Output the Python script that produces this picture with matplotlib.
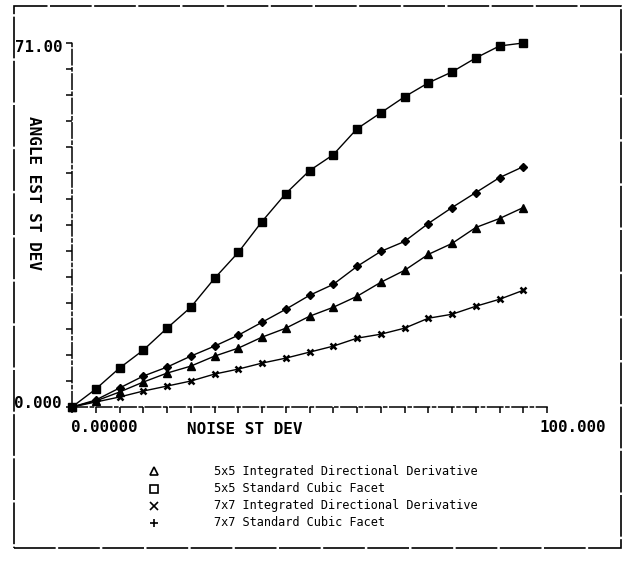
import matplotlib
matplotlib.use("Agg")
import matplotlib.pyplot as plt
from matplotlib.patches import Rectangle
import numpy as np

# noise standard deviation (x) and angle estimate standard deviation (y)
noise = [0, 5, 10, 15, 20, 25, 30, 35, 40, 45, 50, 55, 60, 65, 70, 75, 80, 85, 90, 95]

scf_5x5 = [0, 3.50, 7.59, 11.09, 15.37, 19.45, 25.09, 30.15, 36.18, 41.63,
           46.10, 49.21, 54.27, 57.38, 60.50, 63.22, 65.36, 68.08, 70.42, 71.00]
scf_7x7 = [0, 1.36, 3.70, 6.03, 7.78, 9.92, 11.87, 14.00, 16.53, 19.06,
           21.78, 23.92, 27.42, 30.34, 32.29, 35.79, 38.90, 41.82, 44.74, 46.88]
idd_5x5 = [0, 1.17, 2.92, 4.86, 6.61, 7.97, 9.92, 11.48, 13.62, 15.37,
           17.70, 19.45, 21.59, 24.32, 26.65, 29.76, 31.90, 35.01, 36.76, 38.90]
idd_7x7 = [0, 0.97, 1.95, 3.11, 4.08, 5.06, 6.42, 7.39, 8.56, 9.53,
           10.70, 11.87, 13.42, 14.20, 15.37, 17.31, 18.09, 19.65, 21.01, 22.76]

legend_marks = ["^", "s", "x", "+"]
legend_names = ["5x5 Integrated Directional Derivative",
                "5x5 Standard Cubic Facet",
                "7x7 Integrated Directional Derivative",
                "7x7 Standard Cubic Facet"]

W, H = 628, 561
fig = plt.figure(figsize=(W / 100, H / 100), dpi=100)

# axes box in pixel coordinates
x0, x1, ytop, ybot = 72, 547, 43, 407
ax = fig.add_axes([x0 / W, 1 - ybot / H, (x1 - x0) / W, (ybot - ytop) / H])

ax.plot(noise, scf_5x5, "-", color="black", lw=1.0, marker="s", ms=5.5, clip_on=False)
ax.plot(noise, scf_7x7, "-", color="black", lw=1.0, marker="D", ms=4, clip_on=False)
ax.plot(noise, idd_5x5, "-", color="black", lw=1.0, marker="^", ms=5.5, clip_on=False)
ax.plot(noise, idd_7x7, "-", color="black", lw=1.0, marker="x", ms=5, mew=1.8, clip_on=False)

ax.set_xlim(0, 100)
ax.set_ylim(0, 71)

for s in ["top", "right"]:
    ax.spines[s].set_visible(False)
for s in ["left", "bottom"]:
    ax.spines[s].set_linestyle((0, (10, 2, 2, 2)))
    ax.spines[s].set_linewidth(1.1)

ax.set_xticks(np.arange(0, 101, 5))
ax.set_xticklabels([])
ax.set_yticks(np.linspace(0, 71, 15))
ax.set_yticklabels([])
ax.tick_params(axis="both", direction="out", length=4, width=1.1, color="black")

lab = dict(family="DejaVu Sans Mono", weight="bold", color="black")

def px(x, y):
    return x / W, 1 - y / H

fig.text(*px(62, 47), "71.00", ha="right", va="center", fontsize=11.3, **lab)
fig.text(*px(61, 403), "0.000", ha="right", va="center", fontsize=11.3, **lab)
fig.text(*px(71, 427), "0.00000", ha="left", va="center", fontsize=11.3, **lab)
fig.text(*px(606, 428), "100.000", ha="right", va="center", fontsize=11.3, **lab)
fig.text(*px(245, 430), "NOISE ST DEV", ha="center", va="center", fontsize=11.5, **lab)
fig.text(*px(33, 193), "ANGLE EST ST DEV", ha="center", va="center", fontsize=11.5,
         rotation=-90, **lab)

# legend block under the plot
rows = [471, 489, 506, 523]
for m, name, yy in zip(legend_marks, legend_names, rows):
    fx, fy = px(154, yy)
    fig.lines.append(plt.Line2D([fx], [fy], marker=m, ms=5.5, mfc="none", mec="black",
                                mew=1.2, ls="none", transform=fig.transFigure))
    fig.text(*px(214, yy), name, ha="left", va="center", fontsize=8.6,
             family="DejaVu Sans Mono", color="black")

# outer frame
fx0, fy0 = px(14, 548)
fx1, fy1 = px(621, 6)
fig.patches.append(Rectangle((fx0, fy0), fx1 - fx0, fy1 - fy0, fill=False,
                             ec="black", lw=1.2, ls=(0, (25, 1.5)),
                             transform=fig.transFigure))

fig.savefig("out.png", dpi=100, facecolor="white")
